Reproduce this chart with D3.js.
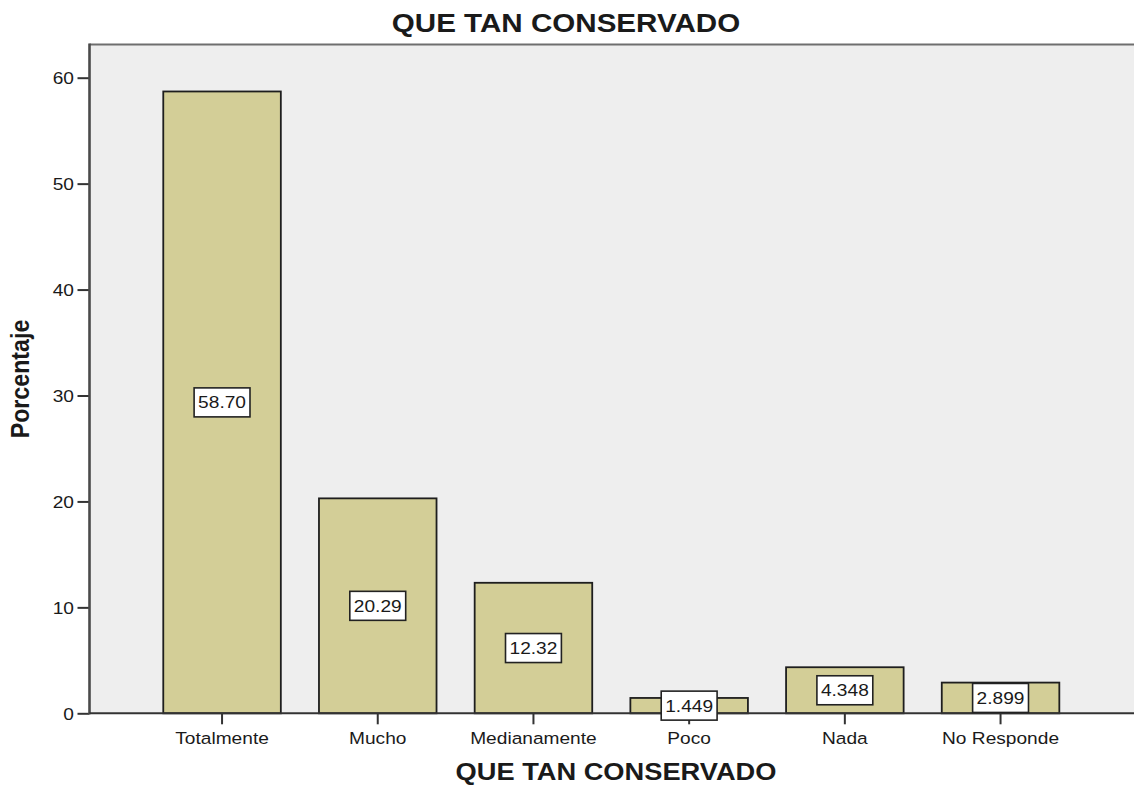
<!DOCTYPE html>
<html>
<head>
<meta charset="utf-8">
<script src="https://cdn.jsdelivr.net/npm/d3@7"></script>
<style>
  html, body { margin: 0; padding: 0; background: #fff; }
  svg { display: block; }
  text { font-family: "Liberation Sans", Arial, sans-serif; fill: #1a1a1a; }
</style>
</head>
<body>
<script>
// ---- data ----
const categories = ["Totalmente", "Mucho", "Medianamente", "Poco", "Nada", "No Responde"];
const values = [58.70, 20.29, 12.32, 1.449, 4.348, 2.899];
const yTicks = [0, 10, 20, 30, 40, 50, 60];
const chartTitle = "QUE TAN CONSERVADO";
const xTitle = "QUE TAN CONSERVADO";
const yTitle = "Porcentaje";

// ---- layout ----
const W = 1134, H = 785;
const SX = 1.16; // horizontal text stretch seen in reference
const plot = { left: 89.5, top: 44.5, right: 1145, bottom: 713.3 };

const svg = d3.select("body").append("svg").attr("width", W).attr("height", H);

const x = d3.scaleBand()
  .domain(categories)
  .range([144.2, 1078.4])
  .paddingInner(0.245)
  .paddingOuter(0.1225);

const y = d3.scaleLinear()
  .domain([0, 60])
  .range([plot.bottom, 77.7]);

// plot background
svg.append("rect")
  .attr("x", plot.left).attr("y", plot.top)
  .attr("width", plot.right - plot.left).attr("height", plot.bottom - plot.top)
  .attr("fill", "#eeeeee");
svg.append("line")
  .attr("x1", plot.left).attr("x2", plot.right)
  .attr("y1", plot.top).attr("y2", plot.top)
  .attr("stroke", "#6e6e6e").attr("stroke-width", 2);

// bars
svg.append("g").selectAll("rect")
  .data(values)
  .join("rect")
  .attr("x", (d, i) => x(categories[i]))
  .attr("width", x.bandwidth())
  .attr("y", d => y(d))
  .attr("height", d => y(0) - y(d))
  .attr("fill", "#d3ce97")
  .attr("stroke", "#1e1e1e")
  .attr("stroke-width", 1.8);

// axes
const yAxis = svg.append("g")
  .attr("transform", `translate(${plot.left},0)`)
  .call(d3.axisLeft(y).tickValues(yTicks).tickSize(12).tickSizeOuter(0));
yAxis.select(".domain").remove();
yAxis.selectAll(".tick line").attr("stroke", "#333").attr("stroke-width", 2);
yAxis.selectAll(".tick text")
  .attr("x", null).attr("dy", null)
  .attr("transform", `translate(-15.5,6) scale(${SX},1)`)
  .attr("text-anchor", "end")
  .style("font-size", "16.5px")
  .style("font-family", "'Liberation Sans', Arial, sans-serif")
  .attr("fill", "#2a2a2a");

const xAxis = svg.append("g")
  .attr("transform", `translate(0,${plot.bottom})`)
  .call(d3.axisBottom(x).tickSize(11).tickSizeOuter(0));
xAxis.select(".domain").remove();
xAxis.selectAll(".tick line").attr("stroke", "#333").attr("stroke-width", 2);
xAxis.selectAll(".tick text")
  .attr("y", null).attr("dy", null)
  .attr("transform", `translate(0,31) scale(${SX},1)`)
  .attr("text-anchor", "middle")
  .style("font-size", "16.5px")
  .style("font-family", "'Liberation Sans', Arial, sans-serif")
  .attr("fill", "#2a2a2a");

// axis lines
svg.append("line")
  .attr("x1", plot.left).attr("x2", plot.left)
  .attr("y1", plot.top - 1).attr("y2", plot.bottom + 1)
  .attr("stroke", "#4a4a4a").attr("stroke-width", 2.6);
svg.append("line")
  .attr("x1", plot.left).attr("x2", plot.right)
  .attr("y1", plot.bottom).attr("y2", plot.bottom)
  .attr("stroke", "#333").attr("stroke-width", 2);

// value labels
const fmt = d3.format(".4g");
const lab = svg.append("g").selectAll("g")
  .data(values)
  .join("g")
  .attr("transform", (d, i) => `translate(${x(categories[i]) + x.bandwidth() / 2},${(y(d) + y(0)) / 2})`);
lab.each(function(d) {
  const g = d3.select(this);
  const t = g.append("text")
    .attr("text-anchor", "middle")
    .attr("transform", `translate(0,6) scale(${SX},1)`)
    .style("font-size", "16.5px")
    .attr("fill", "#111")
    .text(fmt(d));
  const w = t.node().getComputedTextLength() * SX + 8;
  g.insert("rect", "text")
    .attr("x", -w / 2).attr("y", -14.5)
    .attr("width", w).attr("height", 29)
    .attr("fill", "#fff")
    .attr("stroke", "#222").attr("stroke-width", 1.6);
});

// titles
svg.append("text")
  .attr("transform", `translate(566,32) scale(${SX},1)`)
  .attr("text-anchor", "middle")
  .style("font-size", "25.5px").style("font-weight", "bold")
  .attr("fill", "#111")
  .text(chartTitle);

svg.append("text")
  .attr("transform", `translate(616,780) scale(${SX},1)`)
  .attr("text-anchor", "middle")
  .style("font-size", "23.5px").style("font-weight", "bold")
  .attr("fill", "#111")
  .text(xTitle);

svg.append("text")
  .attr("transform", `translate(29,379) rotate(-90) scale(1.08,${SX})`)
  .attr("text-anchor", "middle")
  .style("font-size", "21.5px").style("font-weight", "bold")
  .attr("fill", "#111")
  .text(yTitle);
</script>
</body>
</html>
